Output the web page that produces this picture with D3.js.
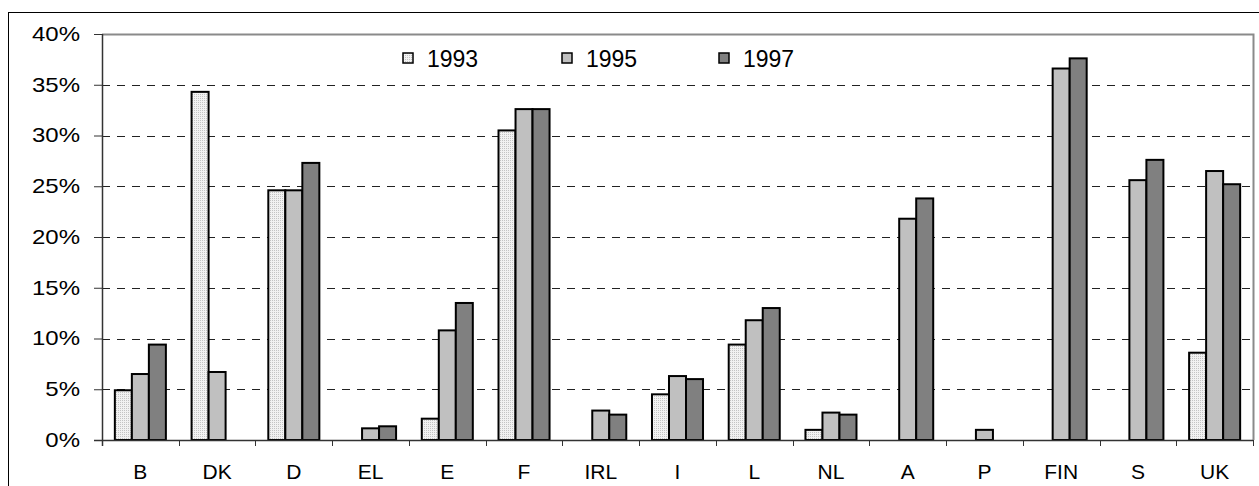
<!DOCTYPE html>
<html>
<head>
<meta charset="utf-8">
<script src="https://cdn.jsdelivr.net/npm/d3@7"></script>
<style>
  body { margin: 0; background: #fff; }
  svg { display: block; font-family: "Liberation Sans", Arial, sans-serif; }
</style>
</head>
<body>
<div id="chart"></div>
<script>
var categories = ['B', 'DK', 'D', 'EL', 'E', 'F', 'IRL', 'I', 'L', 'NL', 'A', 'P', 'FIN', 'S', 'UK'];
var years = ['1993', '1995', '1997'];
var values1993 = [4.9, 34.3, 24.6, 0, 2.1, 30.5, 0, 4.5, 9.4, 1.0, 0, 0, 0, 0, 8.6];
var values1995 = [6.5, 6.7, 24.6, 1.15, 10.8, 32.6, 2.9, 6.3, 11.8, 2.7, 21.8, 1.0, 36.6, 25.6, 26.5];
var values1997 = [9.4, 0, 27.3, 1.35, 13.5, 32.6, 2.5, 6.0, 13.0, 2.5, 23.8, 0, 37.6, 27.6, 25.2];
var yTicks = [0, 5, 10, 15, 20, 25, 30, 35, 40];

var _width = 1259, _height = 486;
var _left = 102, _right = 1253, _top = 34, _bottom = 440;

var svg = d3.select('#chart').append('svg')
    .attr('width', _width)
    .attr('height', _height);

var defs = svg.append('defs');
var pat = defs.append('pattern')
    .attr('id', 'dots')
    .attr('patternUnits', 'userSpaceOnUse')
    .attr('width', 2).attr('height', 2);
pat.append('rect').attr('width', 2).attr('height', 2).attr('fill', '#f2f2f2');
pat.append('rect').attr('width', 1).attr('height', 1).attr('fill', '#c4c4c4');

var fills = ['url(#dots)', '#c0c0c0', '#808080'];

// outer frame (clipped by the window on right/bottom)
svg.append('rect')
    .attr('x', 8.5).attr('y', 12.5)
    .attr('width', 1300).attr('height', 500)
    .attr('fill', 'none').attr('stroke', '#000').attr('stroke-width', 1);

var x = d3.scaleBand().domain(categories).range([_left, _right]).padding(0);
var y = d3.scaleLinear().domain([0, 40]).range([_bottom, _top]);
var groupW = x.bandwidth() * 0.665;
var xs = d3.scaleBand().domain(years).range([0, groupW]);

// gridlines
svg.append('g')
  .selectAll('line')
  .data(yTicks.filter(function(d) { return d > 0 && d < 40; }))
  .enter().append('line')
    .attr('x1', _left).attr('x2', _right)
    .attr('y1', function(d) { return Math.round(y(d)) + 0.5; })
    .attr('y2', function(d) { return Math.round(y(d)) + 0.5; })
    .attr('stroke', '#222').attr('stroke-dasharray', '8,7');

// plot area border top/right
svg.append('path')
    .attr('d', 'M' + _left + ',' + (_top + 0.5) + 'H' + (_right + 0.5) + 'V' + _bottom)
    .attr('fill', 'none').attr('stroke', '#8a8a8a').attr('stroke-width', 2);

// bars
var series = [values1993, values1995, values1997];
series.forEach(function(vals, si) {
  svg.append('g')
    .selectAll('rect')
    .data(vals.map(function(v, i) { return { c: categories[i], v: v }; })
      .filter(function(d) { return d.v > 0; }))
    .enter().append('rect')
      .attr('x', function(d) { return x(d.c) + (x.bandwidth() - groupW) / 2 + xs(years[si]); })
      .attr('width', xs.bandwidth())
      .attr('y', function(d) { return y(d.v); })
      .attr('height', function(d) { return _bottom - y(d.v); })
      .attr('fill', fills[si])
      .attr('stroke', '#000').attr('stroke-width', 2);
});

// y axis
var yAxis = d3.axisLeft(y).tickValues(yTicks).tickSize(8).tickPadding(0)
    .tickFormat(function(d) { return d + '%'; });
var gy = svg.append('g').attr('transform', 'translate(' + _left + ',0)').call(yAxis);
gy.select('.domain').remove();
gy.selectAll('.tick line').attr('stroke', '#333');
gy.selectAll('.tick text')
    .attr('x', -22 / 1.2)
    .attr('transform', 'scale(1.2,1)')
    .attr('font-size', 20).attr('fill', '#000')
    .attr('font-family', '"Liberation Sans", Arial, sans-serif');
svg.append('line')
    .attr('x1', _left + 0.5).attr('x2', _left + 0.5)
    .attr('y1', _top).attr('y2', _bottom + 6)
    .attr('stroke', '#333').attr('stroke-width', 1.5);

// x axis
svg.append('line')
    .attr('x1', _left - 8).attr('x2', _right)
    .attr('y1', _bottom + 0.5).attr('y2', _bottom + 0.5)
    .attr('stroke', '#333').attr('stroke-width', 1.5);
var bounds = categories.map(function(c) { return x(c); }).concat([_right]);
svg.append('g')
  .selectAll('line')
  .data(bounds)
  .enter().append('line')
    .attr('x1', function(d) { return Math.round(d) + 0.5; })
    .attr('x2', function(d) { return Math.round(d) + 0.5; })
    .attr('y1', _bottom).attr('y2', _bottom + 6)
    .attr('stroke', '#333');
svg.append('g')
  .selectAll('text')
  .data(categories)
  .enter().append('text')
    .attr('x', function(d) { return x(d) + x.bandwidth() / 2; })
    .attr('y', 479)
    .attr('text-anchor', 'middle')
    .attr('font-size', 21)
    .text(function(d) { return d; });

// legend
var legendX = [403, 562, 719];
var legend = svg.append('g')
  .selectAll('g')
  .data(years)
  .enter().append('g')
    .attr('transform', function(d, i) { return 'translate(' + legendX[i] + ',53)'; });
legend.append('rect')
    .attr('width', 10).attr('height', 10)
    .attr('fill', function(d, i) { return fills[i]; })
    .attr('stroke', '#000').attr('stroke-width', 1.5);
legend.append('text')
    .attr('x', 24).attr('y', 14)
    .attr('font-size', 23)
    .text(function(d) { return d; });
</script>
</body>
</html>
